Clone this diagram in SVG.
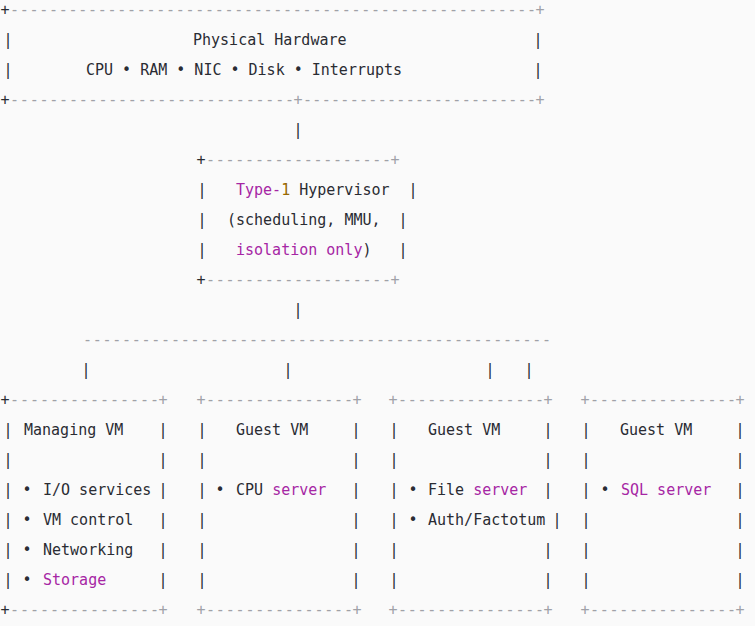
<svg xmlns="http://www.w3.org/2000/svg" width="755" height="626" viewBox="0 0 755 626">
<style>
text{font-family:"DejaVu Sans Mono","Liberation Mono",monospace;font-size:15px;fill:#2a2c33}
.c{text-anchor:middle}
.g{fill:#a0a1a7}
.p{fill:#a626a4}
.o{fill:#986801}
</style>
<rect width="755" height="626" fill="#fafafa"/>
<g id="hardware">
<text x="5" y="15" class="c">+</text>
<text x="10" y="15" class="g" textLength="526" lengthAdjust="spacing">------------------------------------------------------</text>
<text x="540" y="15" class="c g">+</text>
<text x="8" y="45" class="c">|</text><text x="193" y="45">Physical Hardware</text><text x="538" y="45" class="c">|</text>
<text x="8" y="75" class="c">|</text><text x="86" y="75">CPU • RAM • NIC • Disk • Interrupts</text><text x="538" y="75" class="c">|</text>
<text x="5" y="105" class="c">+</text>
<text x="10" y="105" class="g" textLength="284" lengthAdjust="spacing">-----------------------------</text>
<text x="298" y="105" class="c g">+</text>
<text x="303" y="105" class="g" textLength="233" lengthAdjust="spacing">-------------------------</text>
<text x="540" y="105" class="c g">+</text>
</g>
<g id="hypervisor">
<text x="201" y="165" class="c">+</text>
<text x="206" y="165" class="g" textLength="185" lengthAdjust="spacing">-------------------</text>
<text x="395" y="165" class="c g">+</text>
<text x="202" y="195" class="c">|</text><text x="236" y="195"><tspan class="p">Type-</tspan><tspan class="o">1</tspan> Hypervisor</text><text x="413" y="195" class="c">|</text>
<text x="202" y="225" class="c">|</text><text x="227" y="225">(scheduling, MMU,</text><text x="403" y="225" class="c">|</text>
<text x="202" y="255" class="c">|</text><text x="236" y="255"><tspan class="p">isolation only</tspan>)</text><text x="403" y="255" class="c">|</text>
<text x="201" y="285" class="c">+</text>
<text x="206" y="285" class="g" textLength="185" lengthAdjust="spacing">-------------------</text>
<text x="395" y="285" class="c g">+</text>
</g>
<g id="connectors">
<text x="298" y="135" class="c">|</text>
<text x="298" y="315" class="c">|</text>
<text x="83" y="345" class="g" textLength="468" lengthAdjust="spacing">------------------------------------------------</text>
<text x="86" y="375" class="c">|</text>
<text x="288" y="375" class="c">|</text>
<text x="490" y="375" class="c">|</text>
<text x="529" y="375" class="c">|</text>
</g>
<g id="managing-vm">
<text x="5" y="405" class="c">+</text>
<text x="10" y="405" class="g" textLength="149" lengthAdjust="spacing">---------------</text>
<text x="163" y="405" class="c g">+</text>
<text x="8" y="435" class="c">|</text><text x="24" y="435">Managing VM</text><text x="163" y="435" class="c">|</text>
<text x="8" y="465" class="c">|</text><text x="163" y="465" class="c">|</text>
<text x="8" y="495" class="c">|</text><text x="27" y="495" class="c">•</text><text x="43" y="495">I/O services</text><text x="163" y="495" class="c">|</text>
<text x="8" y="525" class="c">|</text><text x="27" y="525" class="c">•</text><text x="43" y="525">VM control</text><text x="163" y="525" class="c">|</text>
<text x="8" y="555" class="c">|</text><text x="27" y="555" class="c">•</text><text x="43" y="555">Networking</text><text x="163" y="555" class="c">|</text>
<text x="8" y="585" class="c">|</text><text x="27" y="585" class="c">•</text><text x="43" y="585" class="p">Storage</text><text x="163" y="585" class="c">|</text>
<text x="5" y="615" class="c">+</text>
<text x="10" y="615" class="g" textLength="149" lengthAdjust="spacing">---------------</text>
<text x="163" y="615" class="c g">+</text>
</g>
<g id="guest-vm-cpu">
<text x="201" y="405" class="c g">+</text>
<text x="206" y="405" class="g" textLength="147" lengthAdjust="spacing">---------------</text>
<text x="357" y="405" class="c g">+</text>
<text x="202" y="435" class="c">|</text><text x="236" y="435">Guest VM</text><text x="356" y="435" class="c">|</text>
<text x="202" y="465" class="c">|</text><text x="356" y="465" class="c">|</text>
<text x="202" y="495" class="c">|</text><text x="220" y="495" class="c">•</text><text x="236" y="495">CPU <tspan class="p">server</tspan></text><text x="356" y="495" class="c">|</text>
<text x="202" y="525" class="c">|</text><text x="356" y="525" class="c">|</text>
<text x="202" y="555" class="c">|</text><text x="356" y="555" class="c">|</text>
<text x="202" y="585" class="c">|</text><text x="356" y="585" class="c">|</text>
<text x="201" y="615" class="c g">+</text>
<text x="206" y="615" class="g" textLength="147" lengthAdjust="spacing">---------------</text>
<text x="357" y="615" class="c g">+</text>
</g>
<g id="guest-vm-file">
<text x="393" y="405" class="c g">+</text>
<text x="398" y="405" class="g" textLength="146" lengthAdjust="spacing">---------------</text>
<text x="548" y="405" class="c g">+</text>
<text x="394" y="435" class="c">|</text><text x="428" y="435">Guest VM</text><text x="548" y="435" class="c">|</text>
<text x="394" y="465" class="c">|</text><text x="548" y="465" class="c">|</text>
<text x="394" y="495" class="c">|</text><text x="413" y="495" class="c">•</text><text x="428" y="495">File <tspan class="p">server</tspan></text><text x="548" y="495" class="c">|</text>
<text x="394" y="525" class="c">|</text><text x="413" y="525" class="c">•</text><text x="428" y="525">Auth/Factotum</text><text x="557" y="525" class="c">|</text>
<text x="394" y="555" class="c">|</text><text x="548" y="555" class="c">|</text>
<text x="394" y="585" class="c">|</text><text x="548" y="585" class="c">|</text>
<text x="393" y="615" class="c g">+</text>
<text x="398" y="615" class="g" textLength="146" lengthAdjust="spacing">---------------</text>
<text x="548" y="615" class="c g">+</text>
</g>
<g id="guest-vm-sql">
<text x="585" y="405" class="c g">+</text>
<text x="590" y="405" class="g" textLength="146" lengthAdjust="spacing">---------------</text>
<text x="740" y="405" class="c g">+</text>
<text x="586" y="435" class="c">|</text><text x="620" y="435">Guest VM</text><text x="740" y="435" class="c">|</text>
<text x="586" y="465" class="c">|</text><text x="740" y="465" class="c">|</text>
<text x="586" y="495" class="c">|</text><text x="605" y="495" class="c">•</text><text x="621" y="495" class="p">SQL server</text><text x="740" y="495" class="c">|</text>
<text x="586" y="525" class="c">|</text><text x="740" y="525" class="c">|</text>
<text x="586" y="555" class="c">|</text><text x="740" y="555" class="c">|</text>
<text x="586" y="585" class="c">|</text><text x="740" y="585" class="c">|</text>
<text x="585" y="615" class="c g">+</text>
<text x="590" y="615" class="g" textLength="146" lengthAdjust="spacing">---------------</text>
<text x="740" y="615" class="c g">+</text>
</g>
</svg>
